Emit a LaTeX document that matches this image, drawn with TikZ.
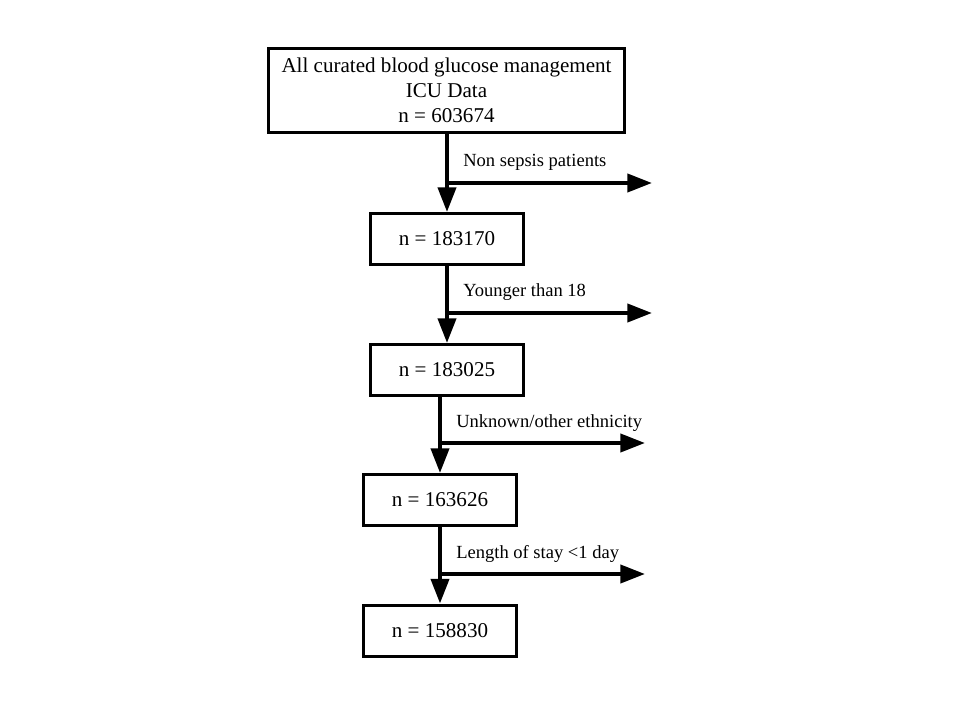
\documentclass[tikz,border=0pt]{standalone}
\usepackage{fontspec}
\setmainfont{Liberation Serif}
\usetikzlibrary{arrows.meta}
\tikzset{
  box/.style={draw=black, line width=2.25pt, inner sep=0pt, align=center,
    font=\fontsize{15.8}{18.75}\selectfont},
  smallbox/.style={box, minimum width=114.75pt, minimum height=38.25pt},
  flowarrow/.style={line width=3pt, -{Triangle[length=18.5pt,width=13.5pt]}},
  lbl/.style={inner sep=0pt, anchor=west, font=\fontsize{13.9}{16}\selectfont}
}

\begin{document}
\begin{tikzpicture}[x=0.75pt, y=-0.75pt]
			%%%%% START %%%%%
			\useasboundingbox (0, 0) rectangle (960, 720);
			
			\node[box, minimum width=267pt, minimum height=63pt] (all) at (446.5, 90.5)
			  {All curated blood glucose management\\ICU Data\\n = 603674};
			\node[smallbox] (sepsis) at (447, 239) {n = 183170};
			\node[smallbox] (adult) at (447, 370) {n = 183025};
			\node[smallbox] (ethnic) at (440, 500) {n = 163626};
			\node[smallbox] (stay) at (440, 630.5) {n = 158830};
			
			\coordinate (out1) at (652, 183);
			\coordinate (out2) at (652, 313);
			\coordinate (out3) at (645, 443);
			\coordinate (out4) at (645, 574);
			
			\draw[flowarrow] (all.south -| sepsis.north) -- (sepsis.north);
			\draw[flowarrow] (sepsis.south) -- (adult.north);
			\draw[flowarrow] (adult.south -| ethnic.north) -- (ethnic.north);
			\draw[flowarrow] (ethnic.south) -- (stay.north);
			
			\draw[flowarrow] (out1 -| sepsis) -- (out1);
			\draw[flowarrow] (out2 -| adult) -- (out2);
			\draw[flowarrow] (out3 -| ethnic) -- (out3);
			\draw[flowarrow] (out4 -| stay) -- (out4);
			
			\node[lbl] (nonsepsis) at (463, 162) {Non sepsis patients};
			\node[lbl] (younger) at (463, 292) {Younger than 18};
			\node[lbl] (unknown) at (456, 423) {Unknown/other ethnicity};
			\node[lbl] (shortstay) at (456, 554) {Length of stay <1 day};
			
			%%%%% END %%%%%
		\end{tikzpicture}
\end{document}
